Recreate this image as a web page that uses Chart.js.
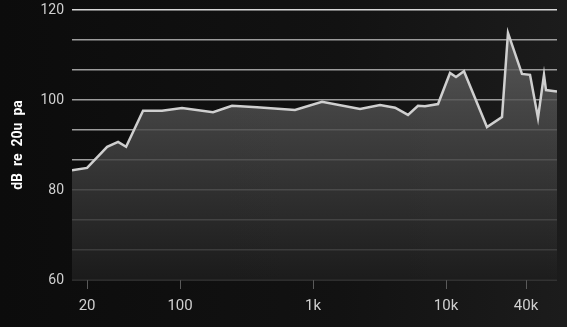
<!DOCTYPE html>
<html>
<head>
<meta charset="utf-8">
<script src="https://cdn.jsdelivr.net/npm/chart.js@4.4.1/dist/chart.umd.min.js"></script>
<style>
  html, body { margin: 0; padding: 0; }
  body { width: 567px; height: 327px; background: linear-gradient(90deg, #0c0c0c 0%, #121212 60%, #1c1c1c 100%); overflow: hidden; }
  #wrap { width: 567px; height: 327px; position: relative; }
</style>
</head>
<body>
<div id="wrap"><canvas id="c" width="567" height="327"></canvas></div>
<script>
// Frequencies (Hz) and levels (dB re 20u pa)
const freqs = [15.4, 20, 28.3, 34.2, 39.3, 52.7, 73.2, 103.5, 177, 246, 379, 732, 1169, 2256, 3190, 4140, 5180, 6155, 6950, 8710, 10720, 11890, 13650, 20330, 26370, 29250, 37260, 42830, 49170, 54550, 56490, 63800, 68340];
const levels = [84.4, 84.9, 89.6, 90.7, 89.6, 97.6, 97.6, 98.2, 97.3, 98.7, 98.4, 97.8, 99.6, 98.0, 98.9, 98.3, 96.7, 98.7, 98.6, 99.1, 106.0, 105.1, 106.4, 94.0, 96.2, 114.9, 105.8, 105.6, 96.0, 105.6, 102.2, 102.0, 101.9];

const xTickValues = [20, 100, 1000, 10000, 40000];
const xTickLabels = ["20", "100", "1k", "10k", "40k"];
const yMin = 60, yMax = 120, yDivisions = 9;
const yLabelValues = [60, 80, 100, 120];
const yLabelTexts = ["60", "80", "100", "120"];
const yTitle = "dB  re  20u  pa";

const ctx = document.getElementById('c').getContext('2d');

new Chart(ctx, {
  type: 'line',
  data: {
    datasets: [{
      data: freqs.map((f, i) => ({ x: f, y: levels[i] })),
      borderColor: '#cfcfcf',
      borderWidth: 2.5,
      pointRadius: 0,
      tension: 0,
      fill: 'start',
      backgroundColor: (c) => {
        const area = c.chart.chartArea;
        if (!area) return 'rgba(80,80,80,0.8)';
        const g = c.chart.ctx.createLinearGradient(0, area.top, 0, area.bottom);
        g.addColorStop(0, 'rgba(110,110,110,0.82)');
        g.addColorStop(0.35, 'rgba(80,80,80,0.82)');
        g.addColorStop(1, 'rgba(30,30,30,0.82)');
        return g;
      }
    }]
  },
  options: {
    responsive: false,
    animation: false,
    devicePixelRatio: 1,
    layout: { padding: { top: 10, right: 10, left: 0, bottom: 0 } },
    plugins: { legend: { display: false }, tooltip: { enabled: false } },
    scales: {
      x: {
        type: 'logarithmic',
        bounds: 'data',
        min: 15.4,
        max: 68340,
        afterBuildTicks: (s) => { s.ticks = xTickValues.map(v => ({ value: v })); },
        afterFit: (s) => { s.height = 47; s.paddingLeft = 0; s.paddingRight = 0; },
        grid: { drawOnChartArea: false, drawTicks: true, tickLength: 9, color: '#5a5a5a', lineWidth: 1 },
        border: { display: false },
        ticks: {
          autoSkip: false, maxRotation: 0, padding: 8,
          color: '#d0d0d0',
          font: { family: 'Roboto', size: 15 },
          callback: (v) => { const i = xTickValues.indexOf(v); return i >= 0 ? xTickLabels[i] : ''; }
        }
      },
      y: {
        type: 'linear',
        min: yMin,
        max: yMax,
        afterBuildTicks: (s) => {
          const t = [];
          for (let i = 0; i <= yDivisions; i++) t.push({ value: yMin + i * (yMax - yMin) / yDivisions });
          s.ticks = t;
        },
        afterFit: (s) => { s.width = 72; s.paddingTop = 0; s.paddingBottom = 0; },
        grid: {
          drawTicks: false,
          lineWidth: 1.5,
          color: (c) => {
            const v = c.tick ? c.tick.value : 0;
            if (Math.abs(v - yMax) < 0.01) return '#d8d8d8';
            if (Math.abs(v - yMin) < 0.01) return '#4a4a4a';
            return '#9c9c9c';
          }
        },
        border: { display: false },
        title: {
          display: true, text: yTitle, color: '#ffffff',
          font: { family: 'Roboto', size: 14, weight: 'bold' },
          padding: { top: 10, bottom: 0 }
        },
        ticks: {
          padding: 8,
          color: '#d0d0d0',
          font: { family: 'Roboto', size: 14 },
          callback: (v) => {
            for (let i = 0; i < yLabelValues.length; i++) {
              if (Math.abs(v - yLabelValues[i]) < 0.01) return yLabelTexts[i];
            }
            return '';
          }
        }
      }
    }
  }
});
</script>
</body>
</html>
